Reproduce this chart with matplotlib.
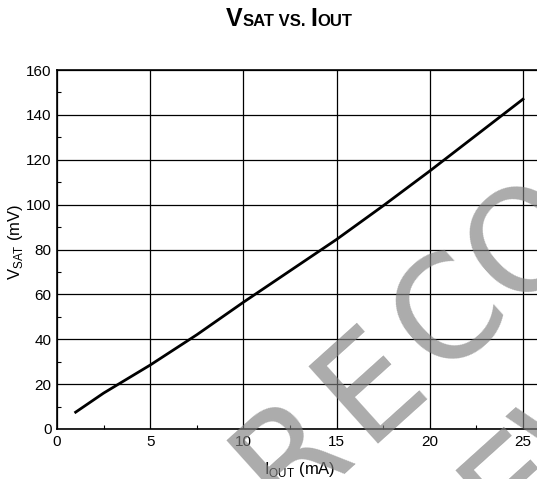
import numpy as np
import matplotlib
matplotlib.use("Agg")
import matplotlib.pyplot as plt
from matplotlib.ticker import MultipleLocator

plt.rcParams["font.family"] = ["Liberation Sans", "DejaVu Sans"]
plt.rcParams["mathtext.fontset"] = "custom"
plt.rcParams["mathtext.rm"] = "Liberation Sans"

# data
i_out = [1, 2.5, 5, 7.5, 10, 12.5, 15, 17.5, 20, 22.5, 25]
v_sat = [7.5, 16, 28.5, 42, 56.5, 70.5, 84.5, 99.5, 115, 131, 147]
x_ticks = [0, 5, 10, 15, 20, 25]
y_ticks = [0, 20, 40, 60, 80, 100, 120, 140, 160]
wm_line1 = "RECO"
wm_line2 = "NEW"

W, H = 537, 479
fig = plt.figure(figsize=(W / 100, H / 100), dpi=100)

# axes runs off the right edge, like the cropped original
x0, x1 = 57, 57 + 27 * 18.64
y0, y1 = 429, 70
ax = fig.add_axes([x0 / W, 1 - y0 / H, (x1 - x0) / W, (y0 - y1) / H])
ax.plot(i_out, v_sat, color="black", lw=2)
ax.set_xlim(0, 27)
ax.set_ylim(0, 160)
ax.set_xticks(x_ticks)
ax.set_yticks(y_ticks)
ax.xaxis.set_minor_locator(MultipleLocator(2.5))
ax.yaxis.set_minor_locator(MultipleLocator(10))
ax.tick_params(which="major", length=0, labelsize=11, pad=4)
ax.tick_params(which="minor", direction="in", length=3, width=0.8)
ax.grid(True, which="major", color="black", lw=0.9)
for s in ax.spines.values():
    s.set_linewidth(1.2)
ax.spines["right"].set_visible(False)

ax.set_xlabel(r"I$_{\rm OUT}$ (mA)", fontsize=12)
ax.xaxis.set_label_coords((300 - x0) / (x1 - x0), -0.085)
ax.set_ylabel(r"V$_{\rm SAT}$ (mV)", fontsize=12)
ax.yaxis.set_label_coords(-(x0 - 25) / (x1 - x0), 0.52)

# title with small-caps style pieces on a common baseline
pieces = [("V", 18), ("SAT", 12), (" VS. ", 12), ("I", 18), ("OUT", 12)]
fig.canvas.draw()
r = fig.canvas.get_renderer()
widths = []
for txt, fs in pieces:
    t = fig.text(0, 0, txt, fontsize=fs, fontweight="bold")
    widths.append(t.get_window_extent(r).width)
    t.remove()
x = 289 - sum(widths) / 2
for (txt, fs), w in zip(pieces, widths):
    fig.text(x / W, 1 - 26 / H, txt, fontsize=fs, fontweight="bold",
             va="baseline", ha="left")
    x += w

# watermark, letters spaced out along a tilted line
ang = 42.0
u = np.array([np.cos(np.radians(ang)), -np.sin(np.radians(ang))])  # along, pixel coords
p = np.array([np.sin(np.radians(ang)), np.cos(np.radians(ang))])   # next line
start = np.array([292.0, 456.0])
step = 106
wm = dict(fontsize=102, family="DejaVu Sans", color="#808080", alpha=0.66,
          rotation=ang, rotation_mode="anchor", ha="center", va="center", zorder=10)
for k, ch in enumerate(wm_line1):
    c = start + k * step * u
    fig.text(c[0] / W, 1 - c[1] / H, ch, **wm)
for k, ch in enumerate(wm_line2):
    c = start + (40 + k * step) * u + 175 * p
    fig.text(c[0] / W, 1 - c[1] / H, ch, **wm)

fig.savefig("out.png", dpi=100)
